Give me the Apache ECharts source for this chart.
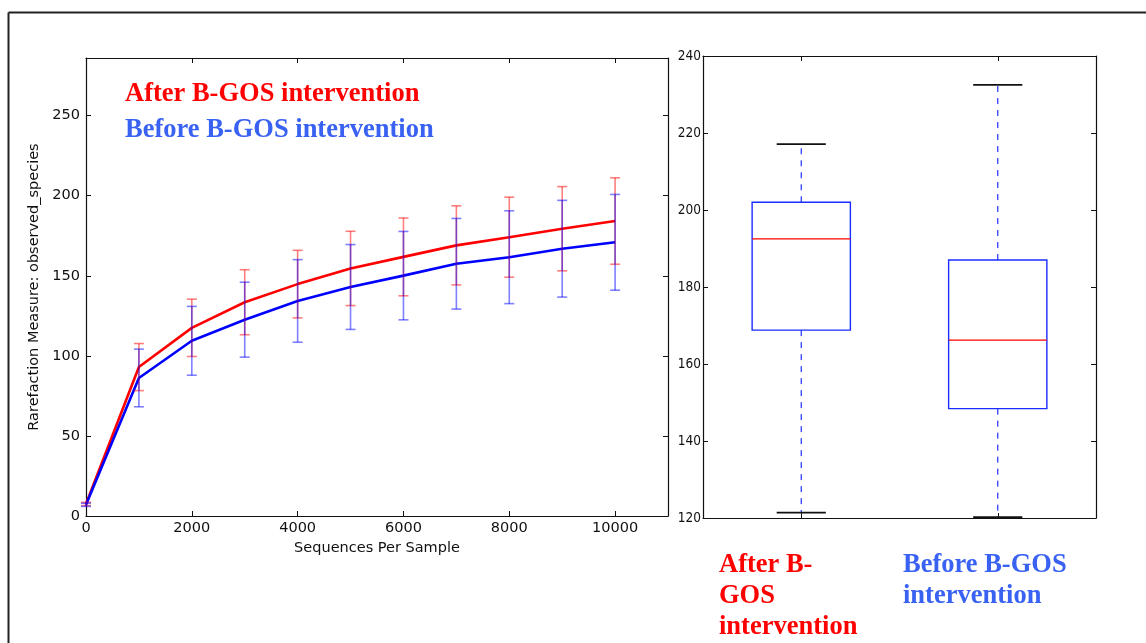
<!DOCTYPE html>
<html>
<head>
<meta charset="utf-8">
<script src="https://cdn.jsdelivr.net/npm/echarts@6/dist/echarts.min.js"></script>
<style>html,body{margin:0;padding:0;background:#fff;}#c{width:1146px;height:643px;}</style>
</head>
<body>
<div id="c"></div>
<script>
// ---- data ----
const seqDepths = [0, 1000, 2000, 3000, 4000, 5000, 6000, 7000, 8000, 9000, 10000];
const afterMean = [7.5, 93, 117.5, 133.5, 144.8, 154.6, 161.8, 169, 174.1, 179.4, 184.2];
const afterErr  = [1, 14.7, 17.9, 20.3, 21.1, 23.2, 24.3, 24.7, 25, 26.3, 27];
const beforeMean = [7, 86.2, 109.4, 122.6, 134.3, 143, 150.1, 157.5, 161.6, 166.9, 170.9];
const beforeErr  = [1, 18, 21.5, 23.4, 25.8, 26.5, 27.6, 28.3, 29, 30.2, 29.9];

const boxCategories = ['After B-GOS intervention', 'Before B-GOS intervention'];
// [min, Q1, median, Q3, max]
const boxAfter  = [121.4, 168.8, 192.5, 202, 217.1];
const boxBefore = [120.2, 148.4, 166.2, 187, 232.5];

const legendAfter = 'After B-GOS intervention';
const legendBefore = 'Before B-GOS intervention';
const boxLabelAfter = 'After B-\nGOS\nintervention';
const boxLabelBefore = 'Before B-GOS\nintervention';
const yAxisName = 'Rarefaction Measure: observed_species';
const xAxisName = 'Sequences Per Sample';

// ---- build ----
const RED = '#ff0000', BLUE = '#0000ff', LBLUE = '#3a62f2';
const chart = echarts.init(document.getElementById('c'), null, {renderer: 'canvas'});

function errData(mean, err) {
  return seqDepths.map((x, i) => [x, mean[i] - err[i], mean[i] + err[i]]);
}
function errRender(color) {
  return function (params, api) {
    const x = api.value(0);
    const lo = api.coord([x, api.value(1)]);
    const hi = api.coord([x, api.value(2)]);
    const w = 5;
    const st = {stroke: color, lineWidth: 1.6};
    return {type: 'group', children: [
      {type: 'line', shape: {x1: lo[0], y1: lo[1], x2: hi[0], y2: hi[1]}, style: st},
      {type: 'line', shape: {x1: lo[0] - w, y1: lo[1], x2: lo[0] + w, y2: lo[1]}, style: st},
      {type: 'line', shape: {x1: hi[0] - w, y1: hi[1], x2: hi[0] + w, y2: hi[1]}, style: st}
    ]};
  };
}
function boxRender(params, api) {
  const idx = api.value(0);
  const band = api.size([1, 0])[0];
  const half = band * 0.25, capHalf = band * 0.125;
  const p = k => api.coord([idx, api.value(k)]);
  const mn = p(1), q1 = p(2), md = p(3), q3 = p(4), mx = p(5);
  const cx = mn[0];
  const dash = {stroke: '#2030ff', lineWidth: 1.2, lineDash: [6, 6]};
  const cap = {stroke: '#111', lineWidth: 1.8};
  return {type: 'group', children: [
    {type: 'line', shape: {x1: cx, y1: q3[1], x2: cx, y2: mx[1]}, style: dash},
    {type: 'line', shape: {x1: cx, y1: q1[1], x2: cx, y2: mn[1]}, style: dash},
    {type: 'line', shape: {x1: cx - capHalf, y1: mx[1], x2: cx + capHalf, y2: mx[1]}, style: cap},
    {type: 'line', shape: {x1: cx - capHalf, y1: mn[1], x2: cx + capHalf, y2: mn[1]}, style: cap},
    {type: 'rect', shape: {x: cx - half, y: q3[1], width: half * 2, height: q1[1] - q3[1]},
      style: {fill: 'none', stroke: '#1a2cff', lineWidth: 1.4}},
    {type: 'line', shape: {x1: cx - half, y1: md[1], x2: cx + half, y2: md[1]},
      style: {stroke: RED, lineWidth: 1.4}}
  ]};
}

const axLine = {show: true, onZero: false, lineStyle: {color: '#111', width: 1.2}};
const tickIn = {show: true, inside: true, length: 5, lineStyle: {color: '#111', width: 1}};
const plain = v => String(v);
const lblL = {color: '#111', fontFamily: 'DejaVu Sans', fontSize: 14.5, formatter: plain};
const lblR = {color: '#111', fontFamily: "'DejaVu Sans Condensed', 'Liberation Sans Narrow', 'DejaVu Sans'", fontSize: 13.5, formatter: plain};

const option = {
  backgroundColor: '#fff',
  animation: false,
  grid: [
    {left: 86, top: 58, width: 582, height: 458},
    {left: 703, top: 56, width: 393, height: 462}
  ],
  xAxis: [
    {type: 'value', gridIndex: 0, min: 0, max: 11000, interval: 2000, position: 'bottom',
      axisLine: axLine, axisTick: tickIn, splitLine: {show: false},
      axisLabel: Object.assign({margin: 5, showMaxLabel: false}, lblL),
      name: xAxisName, nameLocation: 'middle', nameGap: 24,
      nameTextStyle: {color: '#111', fontFamily: 'DejaVu Sans', fontSize: 14.5}},
    {type: 'value', gridIndex: 0, min: 0, max: 11000, interval: 2000, position: 'top',
      axisLine: axLine, axisTick: tickIn, splitLine: {show: false}, axisLabel: {show: false}},
    {type: 'category', gridIndex: 1, data: boxCategories, position: 'bottom',
      axisLine: axLine, axisTick: Object.assign({alignWithLabel: true}, tickIn),
      axisLabel: {show: false}, splitLine: {show: false}},
    {type: 'category', gridIndex: 1, data: boxCategories, position: 'top',
      axisLine: axLine, axisTick: Object.assign({alignWithLabel: true}, tickIn),
      axisLabel: {show: false}, splitLine: {show: false}}
  ],
  yAxis: [
    {type: 'value', gridIndex: 0, min: 0, max: 286, interval: 50, position: 'left',
      axisLine: axLine, axisTick: tickIn, splitLine: {show: false},
      axisLabel: Object.assign({margin: 6, showMaxLabel: false}, lblL),
      name: yAxisName, nameLocation: 'middle', nameGap: 40, nameRotate: 90,
      nameTextStyle: {color: '#111', fontFamily: 'DejaVu Sans', fontSize: 14.5}},
    {type: 'value', gridIndex: 0, min: 0, max: 286, interval: 50, position: 'right',
      axisLine: axLine, axisTick: tickIn, splitLine: {show: false}, axisLabel: {show: false}},
    {type: 'value', gridIndex: 1, min: 120, max: 240, interval: 20, position: 'left',
      axisLine: axLine, axisTick: tickIn, splitLine: {show: false},
      axisLabel: Object.assign({margin: 2}, lblR)},
    {type: 'value', gridIndex: 1, min: 120, max: 240, interval: 20, position: 'right',
      axisLine: axLine, axisTick: tickIn, splitLine: {show: false}, axisLabel: {show: false}}
  ],
  series: [
    {type: 'line', name: legendAfter, xAxisIndex: 0, yAxisIndex: 0,
      data: seqDepths.map((x, i) => [x, afterMean[i]]),
      showSymbol: false, lineStyle: {color: RED, width: 2.6}, itemStyle: {color: RED}, z: 3},
    {type: 'line', name: legendBefore, xAxisIndex: 0, yAxisIndex: 0,
      data: seqDepths.map((x, i) => [x, beforeMean[i]]),
      showSymbol: false, lineStyle: {color: BLUE, width: 2.6}, itemStyle: {color: BLUE}, z: 3},
    {type: 'custom', xAxisIndex: 0, yAxisIndex: 0, data: errData(afterMean, afterErr),
      renderItem: errRender('rgba(255,0,0,0.5)'), encode: {x: 0, y: [1, 2]}, z: 4},
    {type: 'custom', xAxisIndex: 0, yAxisIndex: 0, data: errData(beforeMean, beforeErr),
      renderItem: errRender('rgba(0,0,255,0.5)'), encode: {x: 0, y: [1, 2]}, z: 4},
    {type: 'custom', xAxisIndex: 2, yAxisIndex: 2,
      data: [[0].concat(boxAfter), [1].concat(boxBefore)],
      renderItem: boxRender, encode: {x: 0, y: [1, 2, 3, 4, 5]}, z: 3}
  ],
  graphic: [
    {type: 'line', shape: {x1: 8.5, y1: 12.5, x2: 1146, y2: 12.5}, style: {stroke: '#222', lineWidth: 2}},
    {type: 'line', shape: {x1: 8.5, y1: 12.5, x2: 8.5, y2: 643}, style: {stroke: '#222', lineWidth: 2}},
    {type: 'text', x: 125, y: 94, style: {text: legendAfter, fill: RED,
      font: 'bold 26.5px "Liberation Serif", serif', verticalAlign: 'middle'}},
    {type: 'text', x: 125, y: 130, style: {text: legendBefore, fill: LBLUE,
      font: 'bold 26.5px "Liberation Serif", serif', verticalAlign: 'middle'}},
    {type: 'text', x: 719, y: 550, style: {text: boxLabelAfter, fill: RED, lineHeight: 31,
      font: 'bold 26.5px "Liberation Serif", serif', verticalAlign: 'top'}},
    {type: 'text', x: 903, y: 550, style: {text: boxLabelBefore, fill: LBLUE, lineHeight: 31,
      font: 'bold 26.5px "Liberation Serif", serif', verticalAlign: 'top'}}
  ]
};
chart.setOption(option);
</script>
</body>
</html>
